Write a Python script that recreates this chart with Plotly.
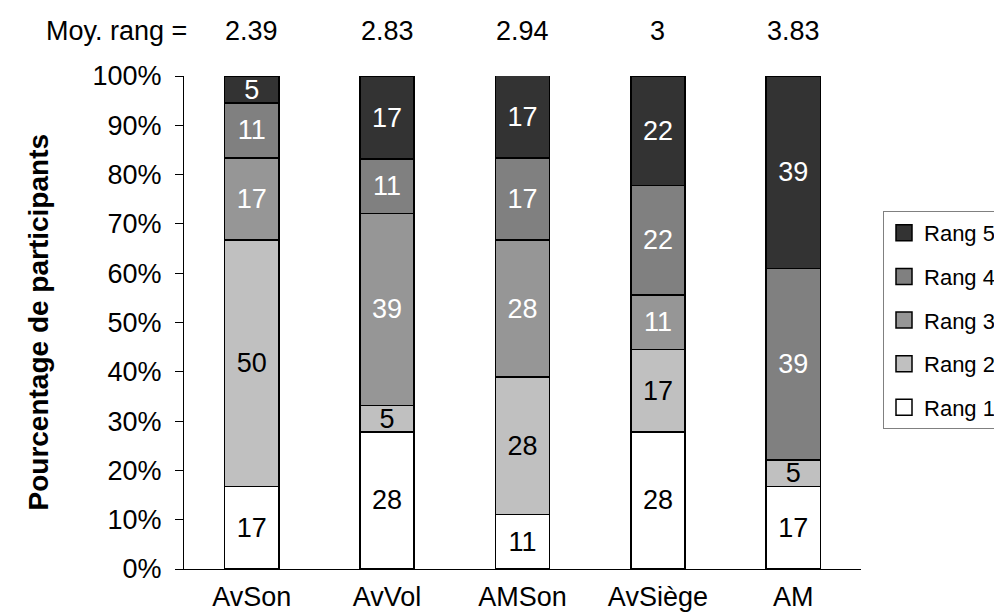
import plotly.graph_objects as go

# categories and mean rank labels shown on top
categories = ["AvSon", "AvVol", "AMSon", "AvSiège", "AM"]
mean_rank = ["2.39", "2.83", "2.94", "3", "3.83"]

# percentage of participants per rank
rang1 = [16.7, 27.8, 11.1, 27.8, 16.7]
rang2 = [50.0, 5.4, 27.8, 16.7, 5.4]
rang3 = [16.7, 38.9, 27.8, 11.1, 0.0]
rang4 = [11.1, 11.1, 16.7, 22.2, 38.9]
rang5 = [5.4, 16.7, 16.7, 22.2, 38.9]

series = [
    ("Rang 1", rang1, "#FFFFFF", "black"),
    ("Rang 2", rang2, "#C0C0C0", "black"),
    ("Rang 3", rang3, "#969696", "white"),
    ("Rang 4", rang4, "#808080", "white"),
    ("Rang 5", rang5, "#333333", "white"),
]

FONT = "Liberation Sans, Arial, sans-serif"
FS = 27

fig = go.Figure()
for i, (name, vals, color, txtcolor) in enumerate(series):
    fig.add_trace(go.Bar(
        x=categories, y=vals, name=name, showlegend=False,
        marker=dict(color=color, line=dict(color="black", width=1.5)),
        text=[f"{v:.0f}" if v > 0 else "" for v in vals],
        textposition="inside", insidetextanchor="middle", textangle=0,
        textfont=dict(color=txtcolor, size=FS, family=FONT),
    ))
    # legend entry with a bigger square swatch
    fig.add_trace(go.Scatter(
        x=[None], y=[None], mode="markers", name=name,
        marker=dict(symbol="square", size=16, color=color,
                    line=dict(color="black", width=1.5)),
        legendrank=10 - i, legendgroup=name,
    ))

# mean rank row above the plot
fig.add_annotation(x=-0.1, y=1.0, xref="paper", yref="paper", yshift=45,
                   xanchor="center", yanchor="middle",
                   text="Moy. rang =", showarrow=False,
                   font=dict(size=FS, color="black", family=FONT))
for cat, m in zip(categories, mean_rank):
    fig.add_annotation(x=cat, y=1.0, xref="x", yref="paper", yshift=45,
                       xanchor="center", yanchor="middle",
                       text=m, showarrow=False,
                       font=dict(size=FS, color="black", family=FONT))

# y axis title
fig.add_annotation(x=0, y=0.5, xref="paper", yref="paper", xshift=-146,
                   xanchor="center", yanchor="middle",
                   text="<b>Pourcentage de participants</b>", textangle=-90,
                   showarrow=False, font=dict(size=28, color="black", family=FONT))

fig.update_layout(
    width=1002, height=615,
    barmode="stack", bargap=0.6,
    plot_bgcolor="white", paper_bgcolor="white",
    margin=dict(l=176, r=149, t=68, b=54, autoexpand=False),
    font=dict(family=FONT, size=FS, color="black"),
    uniformtext=dict(minsize=FS, mode="show"),
    legend=dict(
        x=1.0325, xanchor="left", y=0.505, yanchor="middle",
        traceorder="grouped", tracegroupgap=12,
        bordercolor="#808080", borderwidth=1,
        font=dict(size=22, family=FONT),
    ),
    showlegend=True,
)
fig.update_yaxes(
    range=[0, 100], dtick=10, ticksuffix="%",
    showline=True, linecolor="black", linewidth=1,
    ticks="outside", ticklen=8, tickcolor="black",
    showgrid=False, zeroline=False, ticklabelstandoff=8,
    tickfont=dict(size=FS, family=FONT),
)
fig.update_xaxes(
    showline=True, linecolor="black", linewidth=1,
    ticks="", showgrid=False, ticklabelstandoff=4,
    tickfont=dict(size=FS, family=FONT),
)

fig.write_html("out.html")
